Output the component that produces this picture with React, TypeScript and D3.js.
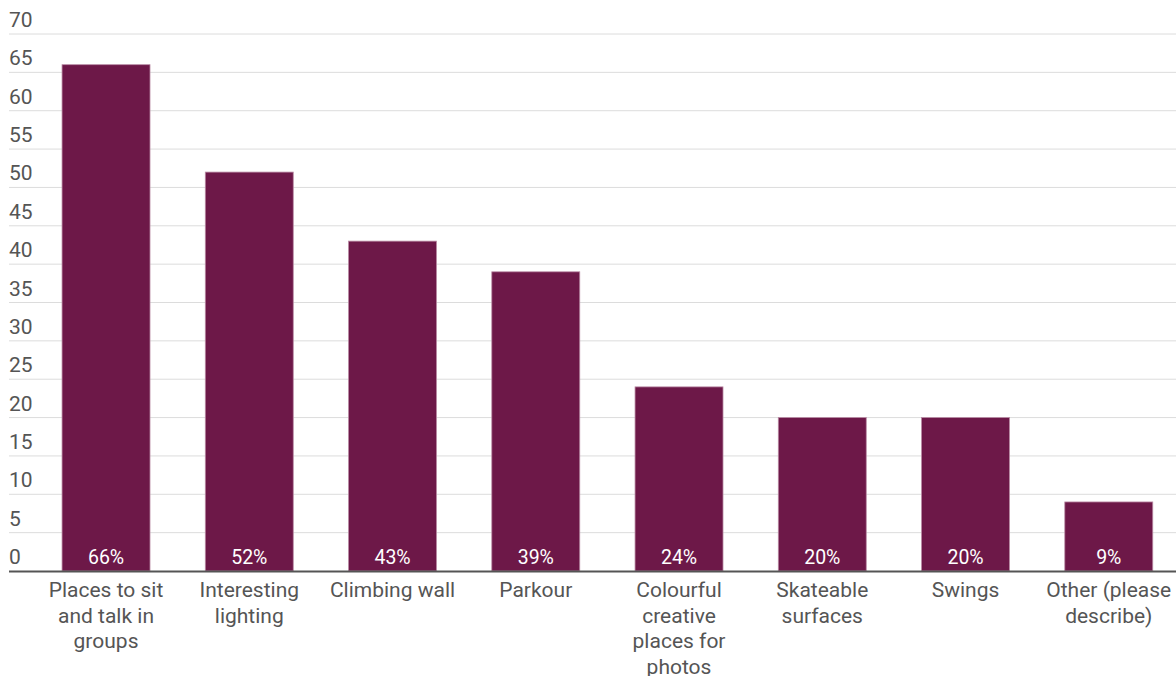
import React from "react";
import * as d3 from "d3";

const categories: string[][] = [
  ["Places to sit", "and talk in", "groups"],
  ["Interesting", "lighting"],
  ["Climbing wall"],
  ["Parkour"],
  ["Colourful", "creative", "places for", "photos"],
  ["Skateable", "surfaces"],
  ["Swings"],
  ["Other (please", "describe)"],
];
const values: number[] = [66, 52, 43, 39, 24, 20, 20, 9];
const valueLabels: string[] = ["66%", "52%", "43%", "39%", "24%", "20%", "20%", "9%"];
const yTicks: number[] = [0, 5, 10, 15, 20, 25, 30, 35, 40, 45, 50, 55, 60, 65, 70];

const W = 1176;
const H = 676;
const FONT = "Roboto, 'Noto Sans', sans-serif";

export default function App() {
  const y = d3.scaleLinear().domain([0, 70]).range([571, 34]);
  const x = d3
    .scaleBand<number>()
    .domain(values.map((_, i) => i))
    .range([34.4, 1180.4])
    .paddingInner(0.386)
    .paddingOuter(0.193);

  return (
    <svg
      width={W}
      height={H}
      style={{ position: "absolute", left: 0, top: 0, background: "#fff" }}
      fontFamily={FONT}
    >
      {yTicks.map((t) => (
        <g key={t}>
          {t > 0 && (
            <line x1={9} x2={W} y1={y(t)} y2={y(t)} stroke="#dcdcdc" strokeWidth={1} />
          )}
          <text x={9} y={y(t) - 7} fontSize={21} fill="#555">
            {t}
          </text>
        </g>
      ))}
      {values.map((v, i) => (
        <g key={i}>
          <rect
            x={x(i)}
            y={y(v)}
            width={x.bandwidth()}
            height={y(0) - y(v)}
            fill="#6d1848"
            stroke="#b98aa4"
            strokeWidth={0.8}
          />
          <text
            x={(x(i) as number) + x.bandwidth() / 2}
            y={564}
            textAnchor="middle"
            fontSize={19.5}
            fill="#fff"
          >
            {valueLabels[i]}
          </text>
          {categories[i].map((line, j) => (
            <text
              key={j}
              x={(x(i) as number) + x.bandwidth() / 2}
              y={597 + j * 25.5}
              textAnchor="middle"
              fontSize={21}
              fill="#555"
            >
              {line}
            </text>
          ))}
        </g>
      ))}
      <line x1={9} x2={W} y1={y(0) + 0.5} y2={y(0) + 0.5} stroke="#555" strokeWidth={2} />
    </svg>
  );
}
